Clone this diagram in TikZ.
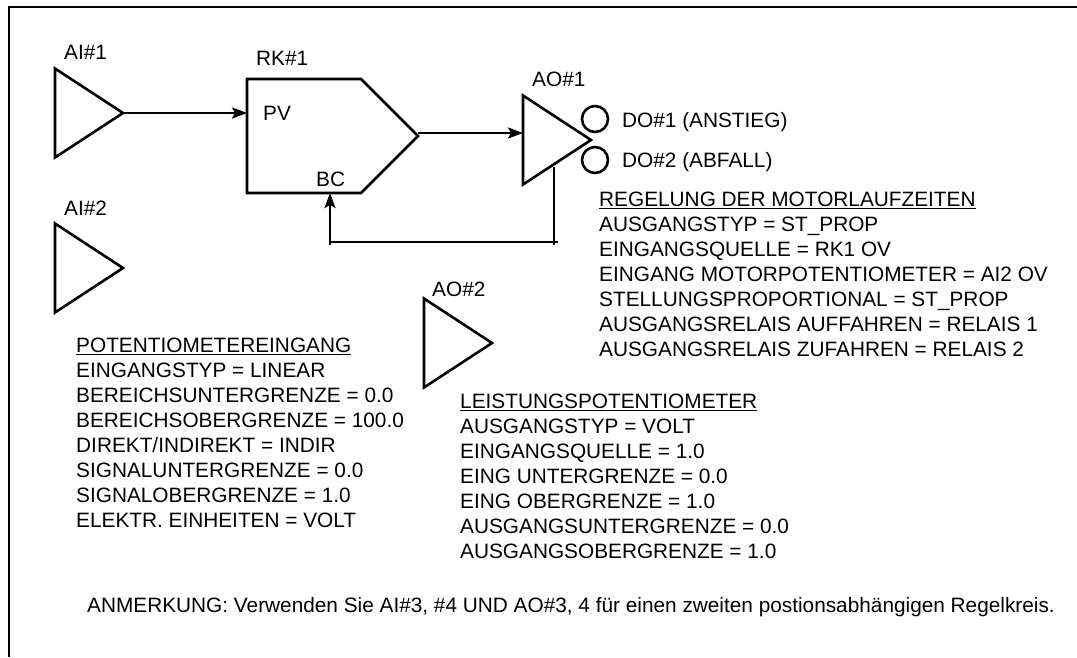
\documentclass[tikz,border=0pt]{standalone}
\usepackage{fontspec}
\setmainfont{Liberation Sans}
\usetikzlibrary{shapes.geometric, shapes.symbols, calc, arrows.meta}
\tikzset{
  block/.style={isosceles triangle, isosceles triangle stretches, draw, line width=2.6pt, line join=miter,
    minimum width=89pt, minimum height=68pt, inner sep=0pt, outer sep=0pt, anchor=west},
  lbl/.style={font=\fontsize{20.8}{25}\selectfont, inner sep=0pt, anchor=west},
  para/.style={font=\fontsize{20.8}{25}\selectfont, inner sep=0pt, anchor=north west, align=left},
  lamp/.style={circle, draw, line width=2.6pt, minimum size=26pt, inner sep=0pt},
  wire/.style={line width=2.6pt},
}
\begin{document}
\begin{tikzpicture}[>={Stealth[length=15pt,width=11pt,inset=3pt]}, x=1pt, y=-1pt]
  \useasboundingbox (0,0) rectangle (1077,657);
  % open frame
  \draw[line width=2.8pt] (1077,7) -- (9,7) -- (9,657);
  % inputs and outputs
  \node[block] (ai1) at (55,113) {};
  \node[block] (ai2) at (55,268) {};
  \node[block] (ao1) at (523,140) {};
  \node[block] (ao2) at (424,343) {};
  \node[lbl] (ai1lbl) at (64,52) {AI\#1};
  \node[lbl] (ai2lbl) at (64,208) {AI\#2};
  \node[lbl] (ao1lbl) at (532,79) {AO\#1};
  \node[lbl] (ao2lbl) at (432,289) {AO\#2};
  % controller
  \node[signal, signal to=east, signal pointer angle=90, draw, line width=2.6pt, line join=miter,
    minimum width=171pt, minimum height=114pt, inner sep=0pt, outer sep=0pt, anchor=west] (rk) at (247,136) {};
  \node[lbl] (rklbl) at (256,58) {RK\#1};
  \node[lbl] (pv) at (263,113) {PV};
  \node[lbl] (bc) at (316,179) {BC};
  % relays
  \node[lamp] (do1) at (595,119) {};
  \node[lamp] (do2) at (595,160) {};
  \node[lbl] (do1lbl) at (622,122) {DO\#1 (ANSTIEG)};
  \node[lbl] (do2lbl) at (622,162) {DO\#2 (ABFALL)};
  % signal paths
  \draw[->, wire] (ai1.east) -- (ai1.east -| rk.west);
  \coordinate (rkout) at ($(rk.east)+(0,-3)$);
  \draw[->, wire] (rkout) -- (rkout -| ao1.west);
  \coordinate (fbtop) at (554,167);
  \coordinate (fbend) at (554,245);
  \coordinate (fbright) at (558,242);
  \coordinate (fbleft) at (330,242);
  \coordinate (fbfoot) at (330,245);
  \draw[wire] (fbtop) -- (fbend);
  \draw[wire] (fbright) -- (fbleft);
  \draw[->, wire] (fbfoot) -- (fbfoot |- rk.south);
  % settings
  \node[para] (motor) at (599,192) {\underline{REGELUNG DER MOTORLAUFZEITEN}\\
    AUSGANGSTYP = ST\_PROP\\
    EINGANGSQUELLE = RK1 OV\\
    EINGANG MOTORPOTENTIOMETER = AI2 OV\\
    STELLUNGSPROPORTIONAL = ST\_PROP\\
    AUSGANGSRELAIS AUFFAHREN = RELAIS 1\\
    AUSGANGSRELAIS ZUFAHREN = RELAIS 2};
  \node[para] (poti) at (76,338) {\underline{POTENTIOMETEREINGANG}\\
    EINGANGSTYP = LINEAR\\
    BEREICHSUNTERGRENZE = 0.0\\
    BEREICHSOBERGRENZE = 100.0\\
    DIREKT/INDIREKT = INDIR\\
    SIGNALUNTERGRENZE = 0.0\\
    SIGNALOBERGRENZE = 1.0\\
    ELEKTR. EINHEITEN = VOLT};
  \node[para] (power) at (460,394) {\underline{LEISTUNGSPOTENTIOMETER}\\
    AUSGANGSTYP = VOLT\\
    EINGANGSQUELLE = 1.0\\
    EING UNTERGRENZE = 0.0\\
    EING OBERGRENZE = 1.0\\
    AUSGANGSUNTERGRENZE = 0.0\\
    AUSGANGSOBERGRENZE = 1.0};
  \node[lbl] (note) at (87,607) {ANMERKUNG: Verwenden Sie AI\#3, \#4 UND AO\#3, 4 für einen zweiten postionsabhängigen Regelkreis.};
\end{tikzpicture}
\end{document}
